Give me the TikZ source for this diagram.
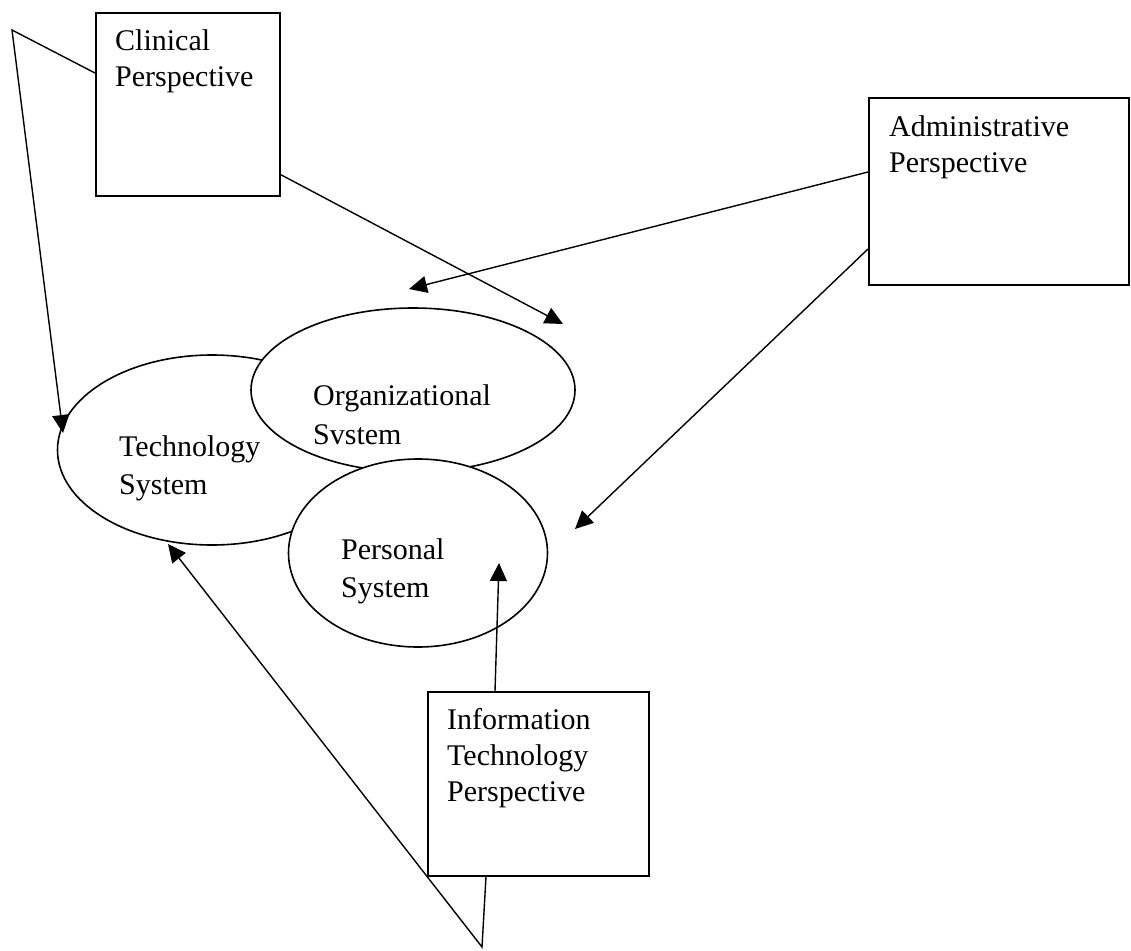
\documentclass[tikz,border=0pt]{standalone}
\usepackage{fontspec}
\setmainfont{Liberation Serif}
\usetikzlibrary{shapes.geometric,positioning,calc,arrows.meta}
\tikzset{PERSPECTIVE/.style={rectangle,draw,line width=1.6pt,fill=white,anchor=north west,inner sep=0pt}}
\tikzset{SYSTEM/.style={ellipse,draw,line width=1.6pt,fill=white,inner sep=0pt}}
\tikzset{LABEL/.style={anchor=north west,inner sep=0pt,align=left,font=\fontsize{30}{36}\selectfont}}
\tikzset{ARROW/.style={line width=1.4pt,-{Triangle[length=18pt,width=17pt]}}}

\begin{document}
\begin{tikzpicture}[x=1pt,y=-1pt]
\useasboundingbox (0,0) rectangle (1131,950);

\node[SYSTEM, minimum width=309pt, minimum height=190pt] (n_tech) at (212,450) {};
\node[SYSTEM, minimum width=324pt, minimum height=164pt] (n_org) at (413,390) {};
\node[SYSTEM, minimum width=259pt, minimum height=188pt] (n_personal) at (418,553) {};

\node[LABEL, font=\fontsize{30}{38}\selectfont] (t_tech) at (119,435) {Technology\\System};
\node[LABEL, font=\fontsize{30}{39}\selectfont] (t_org) at (313,384) {Organizational\\Svstem};
\node[LABEL, font=\fontsize{30}{38}\selectfont] (t_personal) at (341,538) {Personal\\System};

\node[PERSPECTIVE, minimum width=184pt, minimum height=183pt] (n_clinical) at (95,12) {};
\node[PERSPECTIVE, minimum width=260pt, minimum height=187pt] (n_admin) at (868,97) {};
\node[PERSPECTIVE, minimum width=221pt, minimum height=184pt] (n_it) at (427,691) {};

\node[LABEL] (t_clinical) at ($(n_clinical.north west)+(20,17)$) {Clinical\\Perspective};
\node[LABEL] (t_admin) at ($(n_admin.north west)+(21,18)$) {Administrative\\Perspective};
\node[LABEL] (t_it) at ($(n_it.north west)+(20,17)$) {Information\\Technology\\Perspective};

\coordinate (c_clin_bend) at (12,30);
\coordinate (c_tech_top) at (63,433);
\draw[ARROW] ($(n_clinical.north west)+(0,61)$) -- (c_clin_bend) -- (c_tech_top);

\coordinate (c_org_right) at (563,324);
\draw[ARROW] ($(n_clinical.south east)+(0,-22)$) -- (c_org_right);

\coordinate (c_org_top) at (409,289);
\draw[ARROW] ($(n_admin.north west)+(0,75)$) -- (c_org_top);

\coordinate (c_pers_right) at (575,529);
\draw[ARROW] ($(n_admin.north west)+(0,152)$) -- (c_pers_right);

\coordinate (c_pers_in) at (499,563);
\draw[ARROW] ($(n_it.north west)+(68,0)$) -- (c_pers_in);

\coordinate (c_it_bend) at (482,947);
\coordinate (c_tech_bottom) at (168,544);
\draw[ARROW] ($(n_it.south west)+(59,0)$) -- (c_it_bend) -- (c_tech_bottom);

\end{tikzpicture}
\end{document}
